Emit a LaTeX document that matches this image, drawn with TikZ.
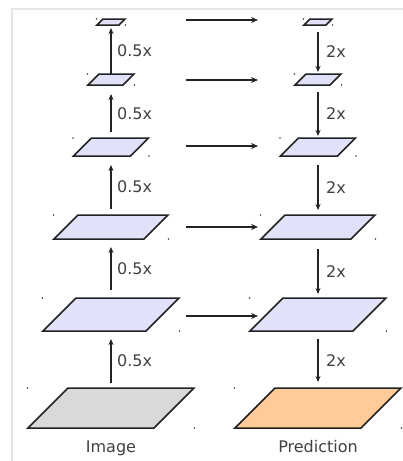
\documentclass[tikz,border=0pt]{standalone}
\usepackage{fontspec}
\setmainfont{DejaVu Sans}
\usetikzlibrary{arrows.meta,calc}
\definecolor{lav}{RGB}{225,225,250}
\definecolor{imgc}{RGB}{217,217,217}
\definecolor{predc}{RGB}{255,204,153}
\definecolor{edge}{RGB}{34,34,34}
\definecolor{txt}{RGB}{64,64,64}
\definecolor{frame}{RGB}{230,230,230}
\newcommand\mylayer[6]{%
  \node[lbox, minimum width={#4+#5}, minimum height={#5}] (#1) at (#2,#3) {};
  \draw[layerline,fill=#6] ($(#1.north west)+(#5,0)$) -- (#1.north east) -- ($(#1.south east)-(#5,0)$) -- (#1.south west) -- cycle;
  \fill[txt] ($(#1.north west)+(-0.5,0)$) circle (0.8);
  \fill[txt] ($(#1.south east)+(0.5,0)$) circle (0.8);
}
\begin{document}
\begin{tikzpicture}[x=1pt,y=-1pt,
  lbox/.style={inner sep=0pt, outer sep=0pt},
  layerline/.style={draw=edge, line width=1.5pt, line join=miter},
  varr/.style={draw=edge, line width=1.3pt, -{Stealth[length=6pt,width=5pt]}},
  harr/.style={draw=edge, line width=1.6pt, -{Stealth[length=7pt,width=6pt]}},
  lab/.style={inner sep=0pt, text=txt, font=\fontsize{16}{19}\selectfont},
]
\useasboundingbox (0,0) rectangle (403,461);
\draw[frame, line width=2pt] (12,461) -- (12,9) -- (403,9);

% left column
\mylayer{a0}{111}{408}{126}{40}{imgc}
\mylayer{a1}{111}{314.5}{103}{33}{lav}
\mylayer{a2}{111}{227}{90}{24}{lav}
\mylayer{a3}{111}{147}{57}{18}{lav}
\mylayer{a4}{111}{79.5}{35}{11}{lav}
\mylayer{a5}{111}{22}{22}{6}{lav}
% right column
\mylayer{b0}{318}{408}{126}{40}{predc}
\mylayer{b1}{318}{314.5}{103}{33}{lav}
\mylayer{b2}{318}{227}{90}{24}{lav}
\mylayer{b3}{318}{147}{57}{18}{lav}
\mylayer{b4}{318}{79.5}{35}{11}{lav}
\mylayer{b5}{318}{22}{22}{6}{lav}

% upward arrows
\draw[varr, shorten <=5pt, shorten >=8pt] (a0.north) -- (a1.south);
\draw[varr, shorten <=8pt, shorten >=8pt] (a1.north) -- (a2.south);
\draw[varr, shorten <=6pt, shorten >=9pt] (a2.north) -- (a3.south);
\draw[varr, shorten <=6pt, shorten >=9pt] (a3.north) -- (a4.south);
\draw[varr, shorten <=0pt, shorten >=3pt] (a4.north) -- (a5.south);
% downward arrows
\draw[varr, shorten <=7pt, shorten >=2pt] (b5.south) -- (b4.north);
\draw[varr, shorten <=7pt, shorten >=2pt] (b4.south) -- (b3.north);
\draw[varr, shorten <=9pt, shorten >=5pt] (b3.south) -- (b2.north);
\draw[varr, shorten <=10pt, shorten >=4pt] (b2.south) -- (b1.north);
\draw[varr, shorten <=8pt, shorten >=6pt] (b1.south) -- (b0.north);

% labels
\node[lab, anchor=west] (la1) at (117,361) {0.5x};
\node[lab, anchor=west] (la2) at (117,268.5) {0.5x};
\node[lab, anchor=west] (la3) at (117,187) {0.5x};
\node[lab, anchor=west] (la4) at (117,113.5) {0.5x};
\node[lab, anchor=west] (la5) at (117,51) {0.5x};
\node[lab, anchor=west] (lb1) at (326,360.5) {2x};
\node[lab, anchor=west] (lb2) at (326,271.5) {2x};
\node[lab, anchor=west] (lb3) at (326,187.5) {2x};
\node[lab, anchor=west] (lb4) at (326,114) {2x};
\node[lab, anchor=west] (lb5) at (326,52) {2x};

% horizontal arrows
\foreach \n/\yy in {1/316,2/227,3/146,4/80,5/20}{
  \coordinate (hs\n) at (186,\yy);
  \coordinate (he\n) at (258,\yy);
  \draw[harr] (hs\n) -- (he\n);
}

\node[lab, anchor=base] (timg) at (111,452) {Image};
\node[lab, anchor=base] (tpred) at (318,452) {Prediction};
\end{tikzpicture}
\end{document}
